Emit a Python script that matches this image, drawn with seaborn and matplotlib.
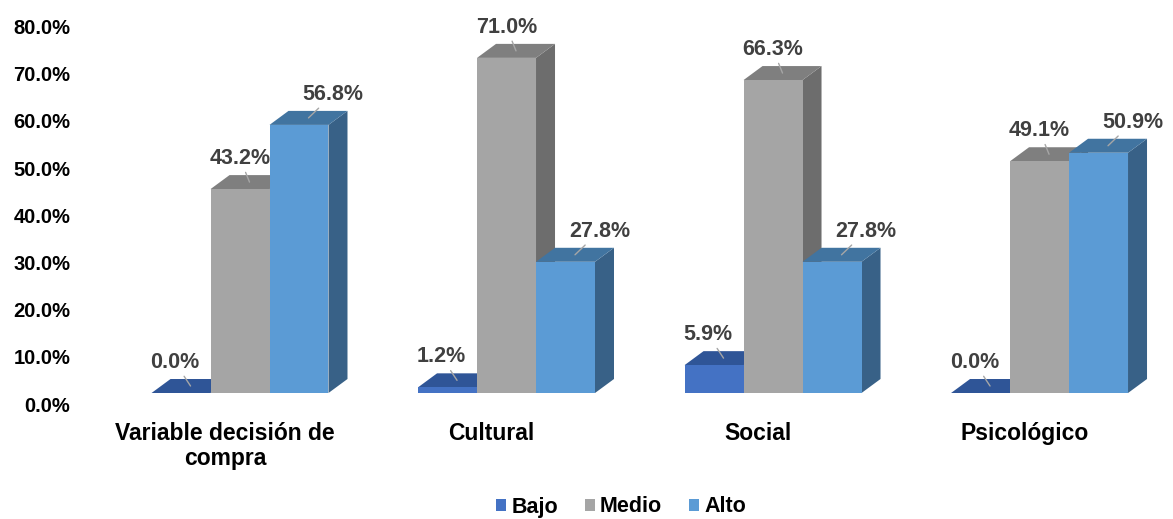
import numpy as np
import pandas as pd
import seaborn as sns
import matplotlib
matplotlib.use("Agg")
import matplotlib.pyplot as plt
from matplotlib.patches import Polygon, Patch
from matplotlib.transforms import ScaledTranslation

# ---------------- data ----------------
categories = ["Variable decisión de\ncompra", "Cultural", "Social", "Psicológico"]
levels = ["Bajo", "Medio", "Alto"]
bajo = [0.0, 1.2, 5.9, 0.0]
medio = [43.2, 71.0, 66.3, 49.1]
alto = [56.8, 27.8, 27.8, 50.9]
y_ticks = [0, 10, 20, 30, 40, 50, 60, 70, 80]

# ---------------- styles ----------------
front_colors = {"Bajo": "#4472C4", "Medio": "#A5A5A5", "Alto": "#5B9BD5"}
top_colors = {"Bajo": "#2F5597", "Medio": "#7F7F7F", "Alto": "#4174A0"}
side_colors = {"Bajo": "#26457A", "Medio": "#6D6D6D", "Alto": "#386187"}
label_dx_px = {"Bajo": -6, "Medio": 0, "Alto": 34}
DEPTH_X_PX, DEPTH_Y_PX = 19, 14

df = pd.DataFrame({
    "categoria": categories * 3,
    "nivel": ["Bajo"] * 4 + ["Medio"] * 4 + ["Alto"] * 4,
    "valor": bajo + medio + alto,
})

sns.set_theme(style="white")
plt.rcParams["font.family"] = ["Liberation Sans", "DejaVu Sans"]

W, H = 1173, 519
fig = plt.figure(figsize=(W / 100, H / 100), dpi=100)
ax = fig.add_axes([80 / W, 126 / H, 1080 / W, 377.6 / H])

sns.barplot(data=df, x="categoria", y="valor", hue="nivel", order=categories,
            hue_order=levels, palette=front_colors, width=0.664, dodge=True,
            saturation=1, errorbar=None, legend=False, linewidth=0, ax=ax)

ax.set_xlim(-0.6004, 3.452)
ax.set_ylim(0, 80)
for s in ax.spines.values():
    s.set_visible(False)
ax.grid(False)
ax.set_xlabel("")
ax.set_ylabel("")

# pixel -> data conversion for 3D depth
p0 = ax.transData.transform((0, 0))
p1 = ax.transData.transform((1, 1))
sx, sy = p1[0] - p0[0], p1[1] - p0[1]
ddx, ddy = DEPTH_X_PX / sx, DEPTH_Y_PX / sy

bars = []
for lvl, cont in zip(levels, ax.containers):
    for patch in cont.patches:
        bars.append((patch.get_x(), lvl, patch))
bars.sort(key=lambda b: b[0])

for rank, (x0, lvl, patch) in enumerate(bars):
    w = patch.get_width()
    h = patch.get_height()
    base_z = 3 + 2 * rank
    patch.set_zorder(base_z + 1)
    side = Polygon([(x0 + w, 0), (x0 + w + ddx, ddy), (x0 + w + ddx, h + ddy), (x0 + w, h)],
                   closed=True, facecolor=side_colors[lvl], edgecolor="none", zorder=base_z)
    top = Polygon([(x0, h), (x0 + w, h), (x0 + w + ddx, h + ddy), (x0 + ddx, h + ddy)],
                  closed=True, facecolor=top_colors[lvl], edgecolor="none", zorder=base_z + 0.5)
    ax.add_patch(side)
    ax.add_patch(top)
    # value label with leader line
    xy = (x0 + w / 2 + ddx / 2, h + ddy / 2)
    off_x = (label_dx_px[lvl] - DEPTH_X_PX / 2) * 0.72
    off_y = 13 * 0.72
    ax.annotate(f"{h:.1f}%", xy=xy, xytext=(off_x, off_y), textcoords="offset points",
                ha="center", va="bottom", fontsize=15.5, fontweight="bold", color="#404040",
                annotation_clip=False, zorder=50,
                arrowprops=dict(arrowstyle="-", color="#A6A6A6", lw=1.0,
                                shrinkA=0, shrinkB=0))

# axes ticks
ax.set_yticks(y_ticks)
ax.set_yticklabels([f"{v:.1f}%" for v in y_ticks], fontsize=14.5, fontweight="bold", color="black")
ax.tick_params(axis="y", length=0, pad=7)
ax.set_xticks(range(len(categories)))
ax.set_xticklabels(categories, fontsize=16.5, fontweight="bold", color="black", linespacing=1.1)
ax.tick_params(axis="x", length=0, pad=21)

for lab in ax.get_yticklabels():
    lab.set_transform(lab.get_transform() + ScaledTranslation(0, -0.11, fig.dpi_scale_trans))
for lab in ax.get_xticklabels():
    lab.set_transform(lab.get_transform() + ScaledTranslation(-0.15, 0, fig.dpi_scale_trans))

handles = [Patch(facecolor=front_colors[l], edgecolor="none") for l in levels]
fig.legend(handles, levels, loc="center", bbox_to_anchor=(621 / W, 1 - 507 / H), ncol=3,
           frameon=False, handlelength=0.47, handleheight=0.47, handletextpad=0.23,
           columnspacing=1.25, labelcolor="black", prop={"weight": "bold", "size": 15.5})

fig.savefig("out.png", dpi=100)
